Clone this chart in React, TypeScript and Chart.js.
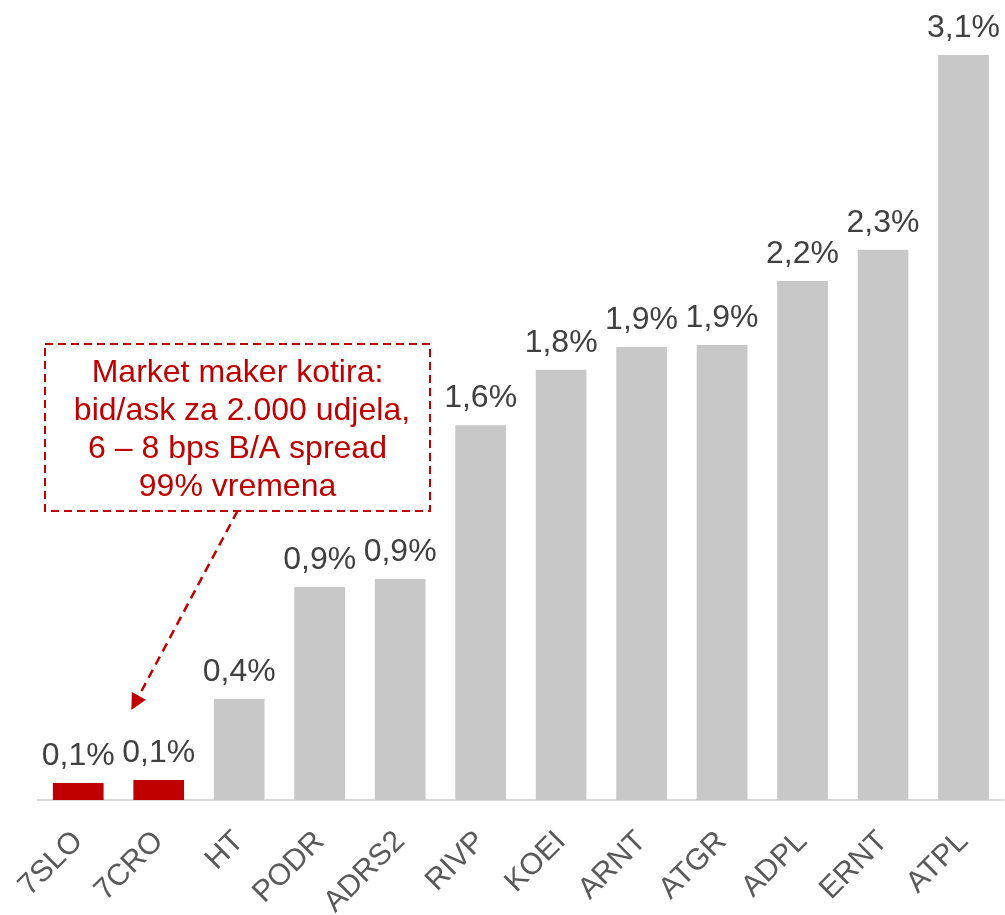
import React, { useEffect, useRef } from "react";
import { Chart, registerables } from "chart.js";

Chart.register(...registerables);

const categories = ["7SLO", "7CRO", "HT", "PODR", "ADRS2", "RIVP", "KOEI", "ARNT", "ATGR", "ADPL", "ERNT", "ATPL"];
const spreadValues = [0.071, 0.083, 0.42, 0.886, 0.92, 1.56, 1.79, 1.885, 1.893, 2.16, 2.29, 3.1];
const highlighted = [true, true, false, false, false, false, false, false, false, false, false, false];
const noteLines = ["Market maker kotira:", " bid/ask za 2.000 udjela,", "6 – 8 bps B/A spread", "99% vremena"];
const noteTargetIndex = 1;

const RED = "#c00000";
const GREY = "#c8c8c8";
const FONT = "'Liberation Sans', Arial, Helvetica, sans-serif";

const formatPct = (v: number) => v.toFixed(1).replace(".", ",") + "%";

const valueLabelsPlugin = {
  id: "valueLabels",
  afterDatasetsDraw(chart: any) {
    const ctx = chart.ctx;
    const meta = chart.getDatasetMeta(0);
    ctx.save();
    ctx.font = `32px ${FONT}`;
    ctx.fillStyle = "#404040";
    ctx.textAlign = "center";
    ctx.textBaseline = "alphabetic";
    meta.data.forEach((bar: any, i: number) => {
      ctx.fillText(formatPct(spreadValues[i]), bar.x, bar.y - 18);
    });
    ctx.restore();
  },
};

const notePlugin = {
  id: "noteBox",
  afterDraw(chart: any) {
    const ctx = chart.ctx;
    const area = chart.chartArea;
    const boxL = area.left + 7;
    const boxR = boxL + 385;
    const boxT = 344;
    const boxB = 511;
    const cx = (boxL + boxR) / 2;
    ctx.save();
    ctx.strokeStyle = RED;
    ctx.lineWidth = 2;
    ctx.setLineDash([8, 5]);
    ctx.strokeRect(boxL, boxT, boxR - boxL, boxB - boxT);

    ctx.font = `32px ${FONT}`;
    ctx.fillStyle = RED;
    ctx.textAlign = "center";
    ctx.textBaseline = "alphabetic";
    noteLines.forEach((line, i) => {
      ctx.fillText(line, cx, 382 + i * 38);
    });

    // arrow towards highlighted bar
    const bar = chart.getDatasetMeta(0).data[noteTargetIndex];
    const tipX = bar.x - bar.width / 2 - 2;
    const tipY = 710;
    const sx = cx;
    const sy = boxB;
    const ang = Math.atan2(tipY - sy, tipX - sx);
    const headLen = 16;
    const headW = 8;
    const baseX = tipX - headLen * Math.cos(ang);
    const baseY = tipY - headLen * Math.sin(ang);
    ctx.lineWidth = 2.5;
    ctx.setLineDash([9, 6]);
    ctx.beginPath();
    ctx.moveTo(sx, sy);
    ctx.lineTo(baseX, baseY);
    ctx.stroke();
    ctx.setLineDash([]);
    ctx.beginPath();
    ctx.moveTo(tipX, tipY);
    ctx.lineTo(baseX + headW * Math.sin(ang), baseY - headW * Math.cos(ang));
    ctx.lineTo(baseX - headW * Math.sin(ang), baseY + headW * Math.cos(ang));
    ctx.closePath();
    ctx.fill();
    ctx.restore();
  },
};

export default function App() {
  const canvasRef = useRef<HTMLCanvasElement | null>(null);

  useEffect(() => {
    if (!canvasRef.current) return;
    const chart = new Chart(canvasRef.current, {
      type: "bar",
      data: {
        labels: categories,
        datasets: [
          {
            data: spreadValues,
            backgroundColor: highlighted.map((h) => (h ? RED : GREY)),
            borderWidth: 0,
            categoryPercentage: 1,
            barPercentage: 0.63,
          },
        ],
      },
      options: {
        responsive: false,
        animation: false,
        layout: { padding: { left: 38, right: 1, top: 7, bottom: 0 } },
        plugins: {
          legend: { display: false },
          tooltip: { enabled: false },
          title: { display: false },
        },
        scales: {
          x: {
            grid: { display: false },
            border: { display: true, color: "#d9d9d9", width: 2 },
            ticks: {
              color: "#595959",
              font: { family: FONT, size: 30 },
              maxRotation: 45,
              minRotation: 45,
              autoSkip: false,
              padding: 16,
            },
            afterFit: (scale: any) => {
              scale.height = 115;
            },
          },
          y: {
            display: false,
            min: 0,
            max: 3.3,
          },
        },
      },
      plugins: [valueLabelsPlugin, notePlugin],
    });
    return () => chart.destroy();
  }, []);

  return (
    <div style={{ position: "absolute", left: 0, top: 0, width: 1005, height: 915, background: "#ffffff" }}>
      <canvas ref={canvasRef} width={1005} height={915} style={{ display: "block" }} />
    </div>
  );
}
